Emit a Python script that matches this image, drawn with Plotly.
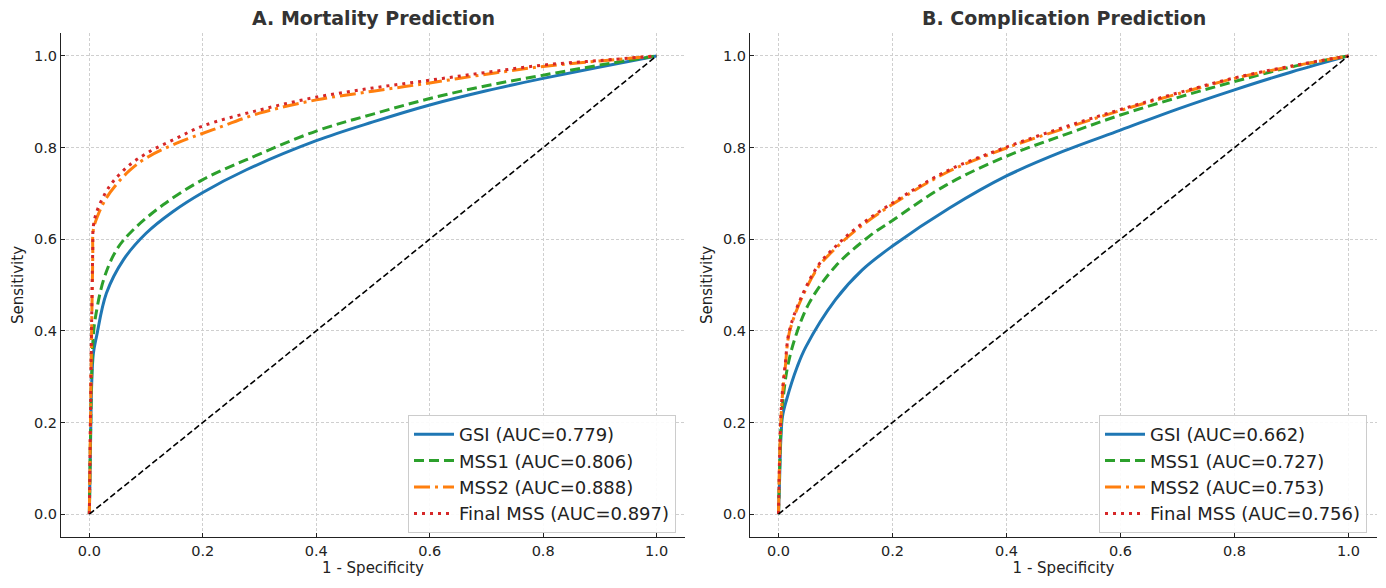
import plotly.graph_objects as go
from plotly.subplots import make_subplots

# ---- data ----
# A. Mortality prediction
gsi_a_x = [0, 0.002, 0.004, 0.007, 0.013, 0.03, 0.06, 0.1, 0.147, 0.2, 0.276, 0.4, 0.5, 0.6, 0.7, 0.8, 0.9, 1.0]
gsi_a_y = [0, 0.15, 0.28, 0.35, 0.39, 0.482, 0.555, 0.613, 0.66, 0.702, 0.751, 0.815, 0.856, 0.893, 0.924, 0.951, 0.976, 1.0]

mss1_a_x = [0, 0.002, 0.004, 0.007, 0.01, 0.025, 0.048, 0.077, 0.13, 0.2, 0.276, 0.4, 0.5, 0.6, 0.7, 0.8, 0.9, 1.0]
mss1_a_y = [0, 0.17, 0.3, 0.39, 0.424, 0.511, 0.577, 0.62, 0.675, 0.73, 0.773, 0.836, 0.873, 0.907, 0.935, 0.958, 0.98, 1.0]

mss2_a_x = [0, 0.002, 0.004, 0.006, 0.007, 0.015, 0.03, 0.048, 0.071, 0.1, 0.153, 0.218, 0.3, 0.4, 0.5, 0.6, 0.7, 0.8, 0.9, 1.0]
mss2_a_y = [0, 0.2, 0.4, 0.56, 0.62, 0.652, 0.69, 0.72, 0.75, 0.777, 0.809, 0.839, 0.875, 0.904, 0.923, 0.941, 0.96, 0.977, 0.989, 1.0]

final_a_x = [0, 0.002, 0.004, 0.006, 0.007, 0.013, 0.027, 0.042, 0.071, 0.106, 0.153, 0.2, 0.3, 0.4, 0.5, 0.6, 0.7, 0.8, 0.9, 1.0]
final_a_y = [0, 0.22, 0.42, 0.58, 0.628, 0.66, 0.698, 0.726, 0.762, 0.791, 0.82, 0.847, 0.882, 0.91, 0.93, 0.947, 0.964, 0.98, 0.99, 1.0]

# B. Complication prediction
gsi_b_x = [0, 0.002, 0.004, 0.007, 0.014, 0.033, 0.048, 0.1, 0.147, 0.2, 0.3, 0.4, 0.5, 0.6, 0.7, 0.8, 0.9, 1.0]
gsi_b_y = [0, 0.08, 0.16, 0.213, 0.249, 0.322, 0.365, 0.468, 0.533, 0.585, 0.668, 0.738, 0.792, 0.838, 0.884, 0.926, 0.965, 1.0]

mss1_b_x = [0, 0.002, 0.004, 0.008, 0.016, 0.03, 0.054, 0.1, 0.159, 0.2, 0.294, 0.4, 0.5, 0.6, 0.7, 0.8, 0.9, 1.0]
mss1_b_y = [0, 0.1, 0.18, 0.25, 0.322, 0.388, 0.461, 0.541, 0.606, 0.641, 0.718, 0.781, 0.827, 0.871, 0.909, 0.944, 0.976, 1.0]

mss2_b_x = [0, 0.002, 0.004, 0.007, 0.012, 0.019, 0.042, 0.071, 0.1, 0.136, 0.2, 0.294, 0.4, 0.5, 0.6, 0.7, 0.8, 0.9, 1.0]
mss2_b_y = [0, 0.12, 0.2, 0.26, 0.322, 0.396, 0.475, 0.541, 0.58, 0.62, 0.676, 0.745, 0.799, 0.841, 0.881, 0.917, 0.951, 0.977, 1.0]

final_b_x = mss2_b_x
final_b_y = [0, 0.13, 0.21, 0.27, 0.33, 0.40, 0.479, 0.545, 0.584, 0.624, 0.679, 0.748, 0.801, 0.844, 0.883, 0.919, 0.952, 0.978, 1.0]

chance = [0, 1]

auc_a = {"GSI": 0.779, "MSS1": 0.806, "MSS2": 0.888, "Final MSS": 0.897}
auc_b = {"GSI": 0.662, "MSS1": 0.727, "MSS2": 0.753, "Final MSS": 0.756}

titles = ["A. Mortality Prediction", "B. Complication Prediction"]

styles = {
    "GSI": dict(color="#1f77b4", dash="solid"),
    "MSS1": dict(color="#2ca02c", dash="10px,5px"),
    "MSS2": dict(color="#ff7f0e", dash="16px,5px,3px,5px"),
    "Final MSS": dict(color="#d62728", dash="3px,5px"),
}

panels = [
    ({"GSI": (gsi_a_x, gsi_a_y), "MSS1": (mss1_a_x, mss1_a_y),
      "MSS2": (mss2_a_x, mss2_a_y), "Final MSS": (final_a_x, final_a_y)}, auc_a, "legend"),
    ({"GSI": (gsi_b_x, gsi_b_y), "MSS1": (mss1_b_x, mss1_b_y),
      "MSS2": (mss2_b_x, mss2_b_y), "Final MSS": (final_b_x, final_b_y)}, auc_b, "legend2"),
]

fig = make_subplots(rows=1, cols=2)

for col, (curves, aucs, leg) in enumerate(panels, start=1):
    for name, (xs, ys) in curves.items():
        st = styles[name]
        fig.add_trace(go.Scatter(
            x=xs, y=ys, mode="lines", line_shape="spline",
            name=f"{name} (AUC={aucs[name]:.3f})",
            line=dict(color=st["color"], dash=st["dash"], width=3),
            legend=leg,
        ), row=1, col=col)
    fig.add_trace(go.Scatter(
        x=chance, y=chance, mode="lines", showlegend=False,
        line=dict(color="black", dash="6px,3px", width=1.6),
    ), row=1, col=col)

# page body has an 8px margin, so the figure is drawn 8px smaller and offset
# plot area on screen: 61..1377 px wide, 33..537 px high
W, H = 1378, 580
ml, mr, mt, mb = 53, 9, 25, 51
pw = W - ml - mr
ph = H - mt - mb
fig.update_xaxes(domain=[0, 624 / pw], row=1, col=1)
fig.update_xaxes(domain=[689 / pw, 1.0], row=1, col=2)

axis_font = dict(family="DejaVu Sans", size=14.5, color="#222")
label_font = dict(family="DejaVu Sans", size=15, color="#222")
common = dict(
    range=[-0.05, 1.05], tickvals=[0, 0.2, 0.4, 0.6, 0.8, 1.0], tickformat=".1f",
    showgrid=True, gridcolor="#cfcfcf", griddash="3px,2px", gridwidth=0.8,
    showline=True, linecolor="#222", linewidth=1.2, zeroline=False,
    ticks="inside", ticklen=4, tickcolor="#222", tickfont=axis_font,
    automargin=False,
)
fig.update_xaxes(title=dict(text="1 - Specificity", font=label_font, standoff=4), **common)
fig.update_yaxes(title=dict(text="Sensitivity", font=label_font, standoff=6), **common)

for i, t in enumerate(titles):
    ref = "x domain" if i == 0 else "x2 domain"
    fig.add_annotation(
        text=f"<b>{t}</b>", xref=ref, yref="paper", x=0.5, y=1, yanchor="bottom",
        yshift=2, showarrow=False,
        font=dict(family="DejaVu Sans", size=19, color="#333"),
    )

leg_style = dict(
    xanchor="right", yanchor="bottom", bgcolor="rgba(255,255,255,0.9)",
    bordercolor="#cccccc", borderwidth=1, itemwidth=40,
    font=dict(family="DejaVu Sans", size=18, color="#222"),
)
fig.update_layout(
    width=W, height=H,
    margin=dict(l=ml, r=mr, t=mt, b=mb),
    plot_bgcolor="white", paper_bgcolor="white",
    legend=dict(x=615 / pw, y=4 / ph, **leg_style),
    legend2=dict(x=(pw - 10) / pw, y=4 / ph, **leg_style),
)

fig.write_html("out.html")
